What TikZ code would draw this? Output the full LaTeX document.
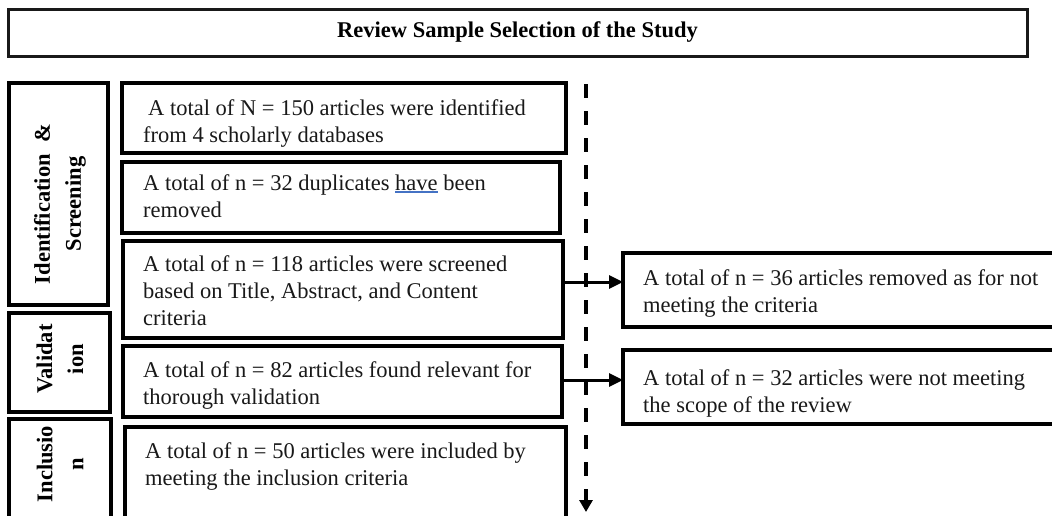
\documentclass[tikz,border=0pt]{standalone}
\usepackage{fontspec}
\setmainfont{Liberation Serif}
\usetikzlibrary{arrows.meta}
\definecolor{ulblue}{RGB}{68,114,196}
\newcommand\spellul[1]{\setbox0\hbox{#1}\rlap{\textcolor{ulblue}{\rule[-3pt]{\wd0}{2pt}}}\box0\relax}
\begin{document}
\begin{tikzpicture}[x=1pt,y=-1pt,
  frame/.style={draw=black, line width=3.5pt, rectangle, inner sep=0pt, outer sep=0pt},
  titlebox/.style={draw=black!90, line width=3pt, rectangle, inner sep=0pt, outer sep=0pt,
    font=\fontsize{22.5}{26}\selectfont\bfseries},
  body/.style={font=\fontsize{22.5}{27}\selectfont, align=left, anchor=base west, inner sep=0pt, text=black!90},
  stage/.style={font=\fontsize{22.5}{31}\selectfont\bfseries, align=center, rotate=90, inner sep=0pt},
  arr/.style={line width=3pt, -{Triangle[length=14pt,width=13pt]}},
  flow/.style={line width=3.5pt, dash pattern=on 14pt off 13pt, -{Triangle[length=12pt,width=13pt]}}]
\clip (0,0) rectangle (1052,515);
\fill[white] (0,0) rectangle (1052,515);

% title
\node[titlebox, minimum width=1019pt, minimum height=47pt] (title) at (517.5,32.5) {Review Sample Selection of the Study};

% stage boxes
\node[frame, minimum width=99pt, minimum height=222pt] (s1) at (58.5,194) {};
\node[frame, minimum width=101pt, minimum height=99pt] (s2) at (59.5,362.5) {};
\node[frame, minimum width=102pt, minimum height=121pt] (s3) at (60,479.5) {};
\node[stage] (l1) at (60,204) {Identification \ \&\\Screening};
\node[stage] (l2) at (60,359) {Validat\\ion};
\node[stage] (l3) at (60,464) {Inclusio\\n};

% middle boxes
\node[frame, minimum width=444pt, minimum height=70pt] (b1) at (344,118) {};
\node[frame, minimum width=438pt, minimum height=71pt] (b2) at (341,197.5) {};
\node[frame, minimum width=440pt, minimum height=97pt] (b3) at (343,289.5) {};
\node[frame, minimum width=439pt, minimum height=71pt] (b4) at (342.5,381.5) {};
\node[frame, minimum width=441pt, minimum height=113pt] (b5) at (345.5,483.5) {};

% text nodes: anchor is the baseline of the last line
\node[body] (t1) at (143,142) {\hspace{5pt}A total of N = 150 articles were identified\\from 4 scholarly databases};
\node[body] (t2) at (143,217) {A total of n = 32 duplicates \spellul{have} been\\removed};
\node[body] (t3) at (143,325) {A total of n = 118 articles were screened\\based on Title, Abstract, and Content\\criteria};
\node[body] (t4) at (143,404) {A total of n = 82 articles found relevant for\\thorough validation};
\node[body] (t5) at (145,485) {A total of n = 50 articles were included by\\meeting the inclusion criteria};

% right boxes
\node[frame, minimum width=437pt, minimum height=74pt] (r1) at (841.5,290) {};
\node[frame, minimum width=437pt, minimum height=74pt] (r2) at (841.5,387) {};
\node[body] (t6) at (643,312) {A total of n = 36 articles removed as for not\\meeting the criteria};
\node[body] (t7) at (643,412) {A total of n = 32 articles were not meeting\\the scope of the review};

% flow line
\coordinate (ftop) at (586,84);
\coordinate (fbot) at (586,512);
\draw[flow] (ftop) -- (fbot);

% arrows
\coordinate (a1) at (0,282);
\coordinate (a2) at (0,380);
\draw[arr] (b3.east |- a1) -- (r1.west |- a1);
\draw[arr] (b4.east |- a2) -- (r2.west |- a2);
\end{tikzpicture}
\end{document}
